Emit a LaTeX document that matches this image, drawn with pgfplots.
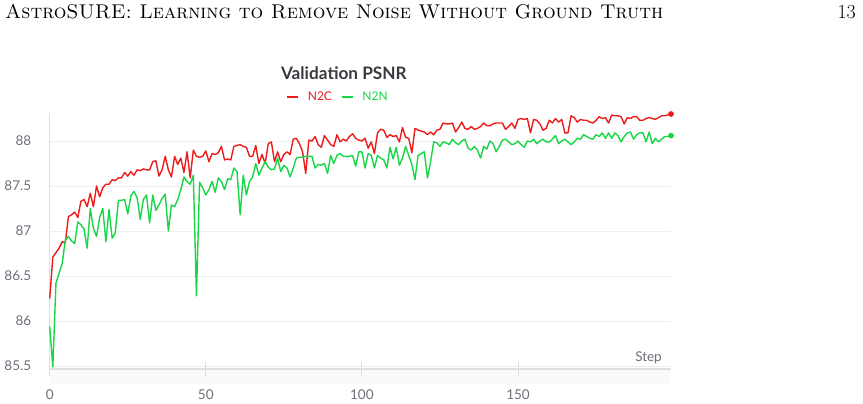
\documentclass[border=0pt]{standalone}
\usepackage{fontspec}
\usepackage{pgfplots}
\pgfplotsset{compat=1.18}
\newfontfamily\chartfont{Lato}
\definecolor{n2c}{RGB}{236,28,28}
\definecolor{n2n}{RGB}{24,214,72}
\definecolor{tickgray}{RGB}{110,110,122}
\definecolor{gridgray}{RGB}{238,238,241}
\definecolor{axisgray}{RGB}{222,222,226}
\definecolor{titlegray}{RGB}{58,58,64}
\begin{document}
\begin{tikzpicture}[x=1pt,y=1pt]
\useasboundingbox (0,0) rectangle (863,404);
\fill[black!2] (49.7,20) rectangle (671,35);
\node[anchor=base west, inner sep=0] at (5,385.0) {\fontsize{19.9}{22}\selectfont\textsc{AstroSURE: Learning to Remove Noise Without Ground Truth}};
\node[anchor=base east, inner sep=0] at (856,385.0) {\fontsize{19.9}{22}\selectfont 13};
\begin{axis}[
  at={(49.7pt,35pt)}, anchor=south west, scale only axis,
  width=621.3pt, height=255.9pt,
  xmin=0, xmax=199, ymin=85.467, ymax=88.31,
  axis x line*=bottom, axis y line*=left,
  axis line style={-, axisgray, line width=1.6pt},
  xtick={0,50,100,150}, ytick={85.5,86,86.5,87,87.5,88},
  ymajorgrids, grid style={gridgray, line width=1pt},
  tick align=center, major tick length=14pt,
  xtick style={axisgray, line width=1pt},
  ytick style={draw=none},
  /pgf/number format/assume math mode=true,
  tick label style={font=\chartfont\fontsize{13.5}{13.5}\selectfont, text=tickgray},
  yticklabel style={xshift=-8pt},
  xticklabel style={yshift=-10pt},
  title={\chartfont\bfseries Validation PSNR},
  title style={at={(0.4735,1.132)}, anchor=center, font=\fontsize{17.2}{17.2}\selectfont, text=titlegray},
  legend columns=2,
  legend style={at={(0.4641,1.063)}, anchor=center, draw=none, fill=none,
    font=\chartfont\fontsize{12}{12}\selectfont, column sep=7pt, inner sep=0pt},
  legend image code/.code={\draw[#1, line width=1.5pt] (0pt,0pt) -- (11pt,0pt);},
  clip=false,
]
\addplot[n2c, line width=1.4pt, line join=round] coordinates {
(0,86.25)(1,86.71)(2,86.76)(3,86.81)(4,86.88)(5,86.87)(6,87.16)(7,87.18)(8,87.21)(9,87.15)
(10,87.33)(11,87.35)(12,87.27)(13,87.42)(14,87.27)(15,87.50)(16,87.38)(17,87.48)(18,87.52)(19,87.52)
(20,87.57)(21,87.56)(22,87.59)(23,87.59)(24,87.65)(25,87.61)(26,87.66)(27,87.62)(28,87.68)(29,87.67)
(30,87.69)(31,87.68)(32,87.68)(33,87.77)(34,87.78)(35,87.61)(36,87.68)(37,87.83)(38,87.68)(39,87.60)
(40,87.83)(41,87.74)(42,87.81)(43,87.65)(44,87.88)(45,87.59)(46,87.90)(47,87.83)(48,87.82)(49,87.83)
(50,87.89)(51,87.77)(52,87.86)(53,87.85)(54,87.87)(55,87.94)(56,87.79)(57,87.80)(58,87.79)(59,87.94)
(60,87.95)(61,87.96)(62,87.94)(63,87.93)(64,87.83)(65,87.83)(66,87.95)(67,87.75)(68,87.85)(69,87.75)
(70,87.97)(71,87.99)(72,87.77)(73,87.88)(74,87.77)(75,87.85)(76,87.88)(77,87.85)(78,88.02)(79,88.03)
(80,87.97)(81,87.88)(82,87.64)(83,88.01)(84,88.00)(85,88.05)(86,87.96)(87,87.93)(88,88.06)(89,88.01)
(90,87.96)(91,87.94)(92,88.07)(93,87.99)(94,88.02)(95,88.00)(96,88.05)(97,88.08)(98,88.03)(99,88.01)
(100,88.00)(101,88.03)(102,87.92)(103,87.99)(104,87.86)(105,88.09)(106,88.13)(107,88.12)(108,88.04)(109,88.07)
(110,88.05)(111,88.06)(112,87.99)(113,88.15)(114,88.04)(115,88.03)(116,87.87)(117,88.14)(118,88.12)(119,88.11)
(120,88.10)(121,88.07)(122,88.10)(123,88.07)(124,88.12)(125,88.13)(126,88.20)(127,88.19)(128,88.19)(129,88.20)
(130,88.10)(131,88.15)(132,88.21)(133,88.14)(134,88.13)(135,88.16)(136,88.13)(137,88.14)(138,88.16)(139,88.20)
(140,88.17)(141,88.17)(142,88.19)(143,88.20)(144,88.20)(145,88.20)(146,88.13)(147,88.16)(148,88.20)(149,88.14)
(150,88.24)(151,88.25)(152,88.24)(153,88.25)(154,88.09)(155,88.24)(156,88.23)(157,88.19)(158,88.12)(159,88.14)
(160,88.23)(161,88.20)(162,88.25)(163,88.21)(164,88.24)(165,88.09)(166,88.09)(167,88.28)(168,88.26)(169,88.21)
(170,88.24)(171,88.23)(172,88.23)(173,88.21)(174,88.20)(175,88.23)(176,88.27)(177,88.25)(178,88.26)(179,88.20)
(180,88.29)(181,88.28)(182,88.28)(183,88.27)(184,88.19)(185,88.26)(186,88.25)(187,88.27)(188,88.27)(189,88.23)
(190,88.23)(191,88.25)(192,88.26)(193,88.25)(194,88.24)(195,88.26)(196,88.28)(197,88.28)(198,88.29)(199,88.30)
};
\addlegendentry{\textcolor{n2c}{N2C}}
\addplot[n2n, line width=1.4pt, line join=round] coordinates {
(0,85.94)(1,85.49)(2,86.42)(3,86.53)(4,86.64)(5,86.90)(6,86.94)(7,86.89)(8,86.86)(9,87.10)
(10,87.07)(11,87.02)(12,86.81)(13,87.25)(14,87.03)(15,86.94)(16,87.15)(17,87.25)(18,86.88)(19,87.24)
(20,86.92)(21,86.98)(22,87.34)(23,87.34)(24,87.35)(25,87.19)(26,87.39)(27,87.44)(28,87.37)(29,87.13)
(30,87.35)(31,87.40)(32,87.09)(33,87.40)(34,87.23)(35,87.29)(36,87.36)(37,87.41)(38,87.00)(39,87.29)
(40,87.27)(41,87.35)(42,87.46)(43,87.60)(44,87.55)(45,87.52)(46,87.62)(47,86.28)(48,87.54)(49,87.48)
(50,87.40)(51,87.46)(52,87.55)(53,87.43)(54,87.59)(55,87.55)(56,87.46)(57,87.58)(58,87.57)(59,87.70)
(60,87.66)(61,87.18)(62,87.62)(63,87.40)(64,87.55)(65,87.60)(66,87.75)(67,87.62)(68,87.70)(69,87.77)
(70,87.71)(71,87.68)(72,87.69)(73,87.81)(74,87.66)(75,87.73)(76,87.70)(77,87.60)(78,87.70)(79,87.81)
(80,87.82)(81,87.82)(82,87.83)(83,87.83)(84,87.83)(85,87.70)(86,87.74)(87,87.73)(88,87.75)(89,87.64)
(90,87.84)(91,87.75)(92,87.84)(93,87.86)(94,87.83)(95,87.83)(96,87.83)(97,87.84)(98,87.72)(99,87.88)
(100,87.88)(101,87.70)(102,87.86)(103,87.84)(104,87.70)(105,87.84)(106,87.81)(107,87.79)(108,87.70)(109,87.93)
(110,87.80)(111,87.93)(112,87.73)(113,87.81)(114,87.94)(115,87.84)(116,87.74)(117,87.57)(118,87.84)(119,87.86)
(120,87.88)(121,87.59)(122,87.77)(123,87.99)(124,87.98)(125,87.94)(126,87.99)(127,87.98)(128,87.96)(129,88.02)
(130,87.98)(131,87.96)(132,88.00)(133,88.02)(134,87.92)(135,87.90)(136,87.94)(137,87.90)(138,87.81)(139,87.94)
(140,87.91)(141,88.00)(142,87.97)(143,87.88)(144,87.94)(145,88.01)(146,88.02)(147,87.99)(148,87.96)(149,87.97)
(150,88.00)(151,87.96)(152,87.93)(153,88.00)(154,87.99)(155,88.02)(156,87.97)(157,88.00)(158,88.02)(159,87.99)
(160,87.99)(161,88.02)(162,88.06)(163,87.97)(164,88.00)(165,88.02)(166,87.99)(167,87.96)(168,87.99)(169,88.03)
(170,88.02)(171,88.07)(172,88.05)(173,88.03)(174,88.02)(175,88.07)(176,88.05)(177,88.09)(178,88.03)(179,88.09)
(180,88.03)(181,88.09)(182,88.06)(183,87.99)(184,88.05)(185,88.09)(186,88.10)(187,88.02)(188,88.07)(189,88.09)
(190,88.09)(191,87.99)(192,88.10)(193,87.97)(194,88.03)(195,87.99)(196,88.02)(197,88.05)(198,88.05)(199,88.06)
};
\addlegendentry{\textcolor{n2n}{N2N}}
\addplot[n2c, only marks, mark=*, mark size=2.6pt, forget plot] coordinates {(199,88.30)};
\addplot[n2n, only marks, mark=*, mark size=2.6pt, forget plot] coordinates {(199,88.06)};
\node[anchor=center, text=tickgray, font=\chartfont\fontsize{13.5}{13.5}\selectfont] at (axis cs:191.8,85.59) {Step};
\end{axis}
\end{tikzpicture}
\end{document}
